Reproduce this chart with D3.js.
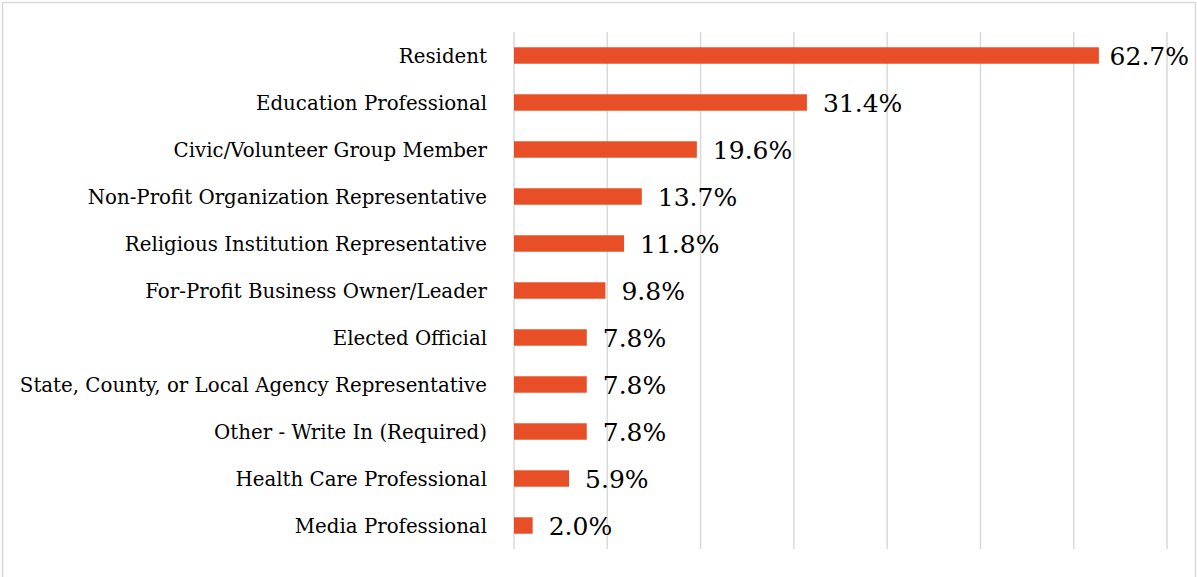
<!DOCTYPE html>
<html>
<head>
<meta charset="utf-8">
<script src="https://cdn.jsdelivr.net/npm/d3@7"></script>
<style>
    html, body { margin: 0; padding: 0; background: #fff; }
    svg { display: block; }
</style>
</head>
<body>
<div id="chart"></div>
<script>
// categories, top to bottom
let categories = [
    'Resident',
    'Education Professional',
    'Civic/Volunteer Group Member',
    'Non-Profit Organization Representative',
    'Religious Institution Representative',
    'For-Profit Business Owner/Leader',
    'Elected Official',
    'State, County, or Local Agency Representative',
    'Other - Write In (Required)',
    'Health Care Professional',
    'Media Professional'
];
let values = [62.7, 31.4, 19.6, 13.7, 11.8, 9.8, 7.8, 7.8, 7.8, 5.9, 2.0];
let gridTicks = [0, 10, 20, 30, 40, 50, 60, 70];

let W = 1197, H = 577;
let svg = d3.select('#chart').append('svg')
    .attr('width', W)
    .attr('height', H);

//外框
svg.append('rect')
    .attr('x', 2.5).attr('y', 2.5)
    .attr('width', W - 4).attr('height', H)
    .attr('fill', '#fff')
    .attr('stroke', '#d9d9d9')
    .attr('stroke-width', 1.5);

let xScale = d3.scaleLinear().domain([0, 70]).range([514, 1167]);
let yScale = d3.scaleBand()
    .domain(categories)
    .range([32, 549])
    .paddingInner(0.65)
    .paddingOuter(0.325);

//网格线
svg.append('g').selectAll('line')
    .data(gridTicks)
    .enter()
    .append('line')
    .attr('x1', d => xScale(d)).attr('x2', d => xScale(d))
    .attr('y1', 32).attr('y2', 549)
    .attr('stroke', '#d9d9d9')
    .attr('stroke-width', 1.5);

let data = categories.map((c, i) => ({ name: c, value: values[i] }));

//条形
svg.append('g').selectAll('rect')
    .data(data)
    .enter()
    .append('rect')
    .attr('x', xScale(0))
    .attr('y', d => yScale(d.name))
    .attr('width', d => xScale(d.value) - xScale(0))
    .attr('height', yScale.bandwidth())
    .attr('fill', '#E94F26');

//y轴标签
svg.append('g').selectAll('text')
    .data(data)
    .enter()
    .append('text')
    .attr('x', 487)
    .attr('y', d => yScale(d.name) + yScale.bandwidth() / 2)
    .attr('dy', '0.36em')
    .attr('text-anchor', 'end')
    .attr('font-family', '"DejaVu Serif", serif')
    .attr('font-size', 19.8)
    .attr('fill', '#000')
    .text(d => d.name);

//数值标签，放不下时往左挪
let labels = svg.append('g').selectAll('text')
    .data(data)
    .enter()
    .append('text')
    .attr('y', d => yScale(d.name) + yScale.bandwidth() / 2)
    .attr('dy', '0.38em')
    .attr('font-family', '"DejaVu Serif", serif')
    .attr('font-size', 25)
    .attr('fill', '#000')
    .text(d => d.value.toFixed(1) + '%');
labels.attr('x', function (d) {
    let w = this.getComputedTextLength();
    return Math.min(xScale(d.value) + 16, 1189 - w);
});
</script>
</body>
</html>
